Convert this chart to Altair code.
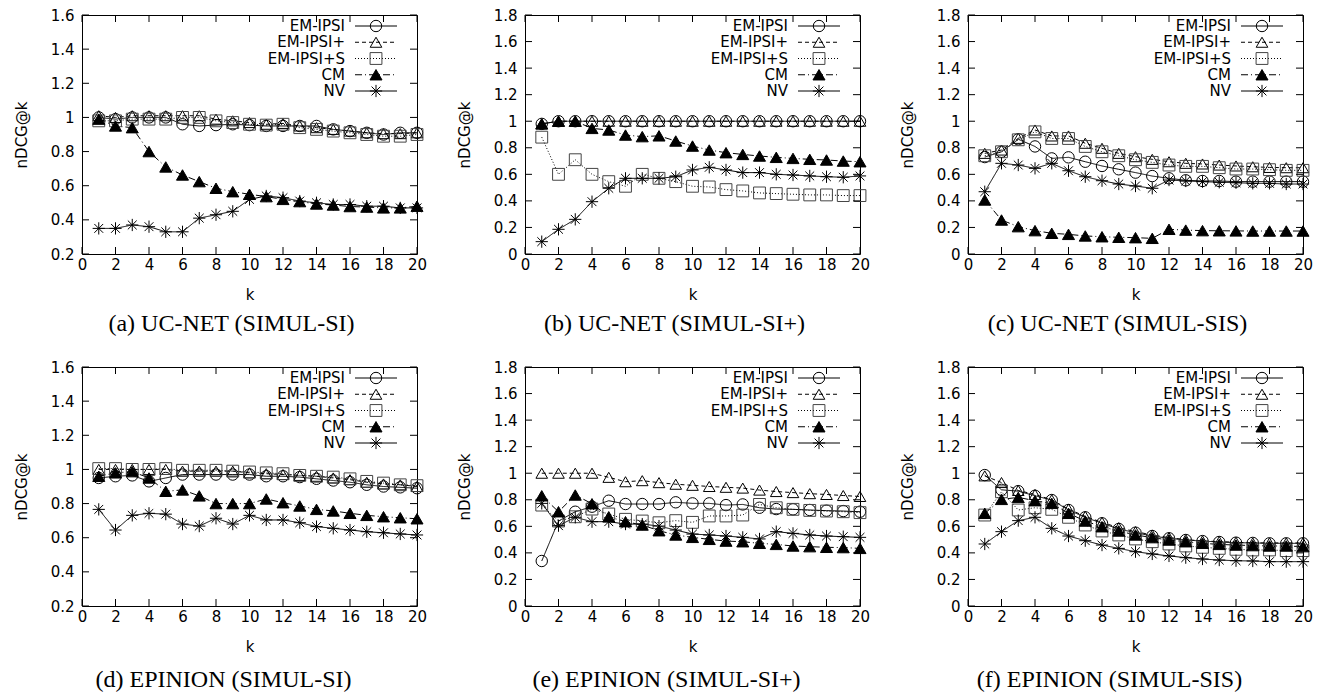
import altair as alt
import pandas as pd

# k positions and series names
K = list(range(1, 21))
SERIES = ["EM-IPSI", "EM-IPSI+", "EM-IPSI+S", "CM", "NV"]

# (a) UC-NET (SIMUL-SI)
A_EM = [1.00, 0.99, 1.00, 1.00, 1.00, 0.96, 0.95, 0.955, 0.96, 0.955, 0.95, 0.95, 0.95, 0.95, 0.93, 0.92, 0.91, 0.90, 0.91, 0.91]
A_EMP = [1.01, 1.00, 1.01, 1.01, 1.01, 1.01, 1.01, 0.99, 0.98, 0.97, 0.96, 0.965, 0.95, 0.94, 0.93, 0.92, 0.91, 0.905, 0.905, 0.91]
A_EMS = [0.98, 0.98, 0.99, 0.99, 0.99, 1.00, 1.00, 0.98, 0.97, 0.96, 0.955, 0.96, 0.94, 0.93, 0.92, 0.91, 0.90, 0.89, 0.89, 0.90]
A_CM = [0.99, 0.95, 0.94, 0.80, 0.71, 0.663, 0.624, 0.585, 0.565, 0.55, 0.536, 0.52, 0.507, 0.493, 0.487, 0.478, 0.475, 0.47, 0.47, 0.48]
A_NV = [0.35, 0.35, 0.37, 0.36, 0.33, 0.33, 0.41, 0.43, 0.45, 0.52, 0.54, 0.53, 0.51, 0.50, 0.49, 0.49, 0.48, 0.48, 0.47, 0.47]

# (b) UC-NET (SIMUL-SI+)
B_EM = [0.98, 1.0, 1.0, 1.0, 1.0, 1.0, 1.0, 1.0, 1.0, 1.0, 1.0, 1.0, 1.0, 1.0, 1.0, 1.0, 1.0, 1.0, 1.0, 1.0]
B_EMP = [0.98, 1.0, 1.0, 1.0, 1.0, 1.0, 1.0, 1.0, 1.0, 1.0, 1.0, 1.0, 1.0, 1.0, 1.0, 1.0, 1.0, 1.0, 1.0, 1.0]
B_EMS = [0.88, 0.60, 0.71, 0.60, 0.545, 0.51, 0.60, 0.57, 0.545, 0.51, 0.505, 0.485, 0.475, 0.46, 0.455, 0.45, 0.445, 0.445, 0.44, 0.44]
B_CM = [0.98, 1.0, 1.0, 0.946, 0.934, 0.896, 0.884, 0.89, 0.851, 0.813, 0.783, 0.763, 0.75, 0.738, 0.728, 0.72, 0.713, 0.708, 0.70, 0.695]
B_NV = [0.093, 0.186, 0.261, 0.394, 0.495, 0.57, 0.57, 0.57, 0.582, 0.633, 0.653, 0.633, 0.613, 0.613, 0.60, 0.595, 0.588, 0.582, 0.578, 0.588]

# (c) UC-NET (SIMUL-SIS)
C_EM = [0.73, 0.77, 0.864, 0.81, 0.72, 0.728, 0.695, 0.663, 0.638, 0.613, 0.587, 0.57, 0.555, 0.55, 0.55, 0.545, 0.545, 0.545, 0.545, 0.545]
C_EMP = [0.758, 0.783, 0.871, 0.934, 0.889, 0.889, 0.834, 0.796, 0.758, 0.733, 0.713, 0.695, 0.683, 0.678, 0.67, 0.663, 0.657, 0.652, 0.65, 0.65]
C_EMS = [0.74, 0.77, 0.86, 0.92, 0.87, 0.87, 0.81, 0.77, 0.74, 0.71, 0.69, 0.67, 0.66, 0.66, 0.65, 0.64, 0.64, 0.635, 0.63, 0.63]
C_CM = [0.407, 0.256, 0.206, 0.176, 0.156, 0.148, 0.136, 0.13, 0.126, 0.123, 0.118, 0.186, 0.18, 0.176, 0.175, 0.174, 0.173, 0.173, 0.173, 0.173]
C_NV = [0.469, 0.683, 0.67, 0.645, 0.683, 0.627, 0.582, 0.552, 0.527, 0.512, 0.495, 0.557, 0.55, 0.545, 0.54, 0.537, 0.532, 0.532, 0.527, 0.527]

# (d) EPINION (SIMUL-SI)
D_EM = [0.95, 0.96, 0.965, 0.93, 0.95, 0.97, 0.97, 0.97, 0.97, 0.97, 0.96, 0.96, 0.955, 0.945, 0.935, 0.925, 0.91, 0.90, 0.895, 0.89]
D_EMP = [1.0, 1.0, 1.0, 1.0, 1.0, 0.99, 0.99, 0.99, 0.99, 0.98, 0.975, 0.97, 0.965, 0.96, 0.95, 0.94, 0.925, 0.915, 0.91, 0.90]
D_EMS = [1.005, 1.005, 1.0, 1.0, 1.005, 0.995, 0.995, 0.995, 0.99, 0.985, 0.98, 0.975, 0.965, 0.96, 0.955, 0.945, 0.93, 0.92, 0.91, 0.905]
D_CM = [0.96, 0.98, 0.987, 0.95, 0.872, 0.88, 0.845, 0.80, 0.80, 0.80, 0.827, 0.805, 0.786, 0.766, 0.757, 0.743, 0.731, 0.723, 0.717, 0.711]
D_NV = [0.766, 0.645, 0.731, 0.743, 0.738, 0.68, 0.668, 0.714, 0.68, 0.731, 0.704, 0.704, 0.688, 0.665, 0.655, 0.645, 0.635, 0.629, 0.622, 0.616]

# (e) EPINION (SIMUL-SI+)
E_EM = [0.339, 0.64, 0.71, 0.748, 0.793, 0.768, 0.768, 0.768, 0.781, 0.773, 0.773, 0.76, 0.765, 0.74, 0.73, 0.728, 0.723, 0.718, 0.715, 0.71]
E_EMP = [1.0, 1.0, 1.0, 1.0, 0.969, 0.936, 0.944, 0.929, 0.917, 0.909, 0.9, 0.894, 0.888, 0.873, 0.862, 0.854, 0.846, 0.84, 0.832, 0.825]
E_EMS = [0.76, 0.64, 0.672, 0.73, 0.693, 0.653, 0.64, 0.627, 0.643, 0.63, 0.678, 0.678, 0.685, 0.765, 0.74, 0.728, 0.72, 0.715, 0.71, 0.703]
E_CM = [0.83, 0.71, 0.836, 0.77, 0.672, 0.635, 0.61, 0.567, 0.535, 0.517, 0.502, 0.489, 0.484, 0.472, 0.464, 0.452, 0.447, 0.442, 0.44, 0.434]
E_NV = [0.773, 0.605, 0.668, 0.635, 0.635, 0.617, 0.617, 0.602, 0.572, 0.542, 0.535, 0.527, 0.517, 0.505, 0.56, 0.547, 0.535, 0.527, 0.522, 0.517]

# (f) EPINION (SIMUL-SIS)
F_EM = [0.986, 0.875, 0.865, 0.83, 0.798, 0.723, 0.668, 0.623, 0.58, 0.552, 0.527, 0.51, 0.497, 0.489, 0.482, 0.477, 0.475, 0.472, 0.472, 0.472]
F_EMP = [0.98, 0.93, 0.87, 0.84, 0.80, 0.73, 0.675, 0.63, 0.59, 0.56, 0.535, 0.515, 0.50, 0.49, 0.485, 0.48, 0.475, 0.475, 0.475, 0.475]
F_EMS = [0.685, 0.86, 0.723, 0.74, 0.728, 0.668, 0.61, 0.565, 0.535, 0.505, 0.484, 0.467, 0.452, 0.442, 0.434, 0.427, 0.422, 0.422, 0.417, 0.417]
F_CM = [0.698, 0.803, 0.818, 0.793, 0.773, 0.698, 0.64, 0.597, 0.565, 0.535, 0.515, 0.497, 0.484, 0.472, 0.464, 0.459, 0.455, 0.452, 0.452, 0.447]
F_NV = [0.467, 0.56, 0.643, 0.668, 0.585, 0.527, 0.492, 0.459, 0.434, 0.409, 0.392, 0.377, 0.364, 0.354, 0.346, 0.341, 0.339, 0.334, 0.334, 0.334]

CAPTIONS = [
    "(a) UC-NET (SIMUL-SI)",
    "(b) UC-NET (SIMUL-SI+)",
    "(c) UC-NET (SIMUL-SIS)",
    "(d) EPINION (SIMUL-SI)",
    "(e) EPINION (SIMUL-SI+)",
    "(f) EPINION (SIMUL-SIS)",
]

X_TICKS = [0, 2, 4, 6, 8, 10, 12, 14, 16, 18, 20]
Y_TICKS_SI = [0.2, 0.4, 0.6, 0.8, 1.0, 1.2, 1.4, 1.6]
Y_TICKS_WIDE = [0.0, 0.2, 0.4, 0.6, 0.8, 1.0, 1.2, 1.4, 1.6, 1.8]

W, H = 335, 239
TICK_LEN = 7

# line dash per series (solid, dashed, dotted, dash-dot, solid)
DASHES = [[1, 0], [4, 3], [1, 2], [7, 3, 1, 3], [1, 0]]
ASTERISK = "M0,-1L0,1M-1,0L1,0M-0.72,-0.72L0.72,0.72M-0.72,0.72L0.72,-0.72"
SHAPES = ["circle", "triangle-up", "square", "triangle-up", ASTERISK]
FILLS = ["transparent", "transparent", "transparent", "black", "transparent"]
STROKES = ["black", "black", "#444444", "black", "black"]
SIZES = [130, 150, 120, 150, 160]

SANS = "DejaVu Sans"
SERIF = "Liberation Serif"

dash_enc = alt.StrokeDash("series:N", scale=alt.Scale(domain=SERIES, range=DASHES), legend=None)
shape_enc = alt.Shape("series:N", scale=alt.Scale(domain=SERIES, range=SHAPES), legend=None)
fill_enc = alt.Fill("series:N", scale=alt.Scale(domain=SERIES, range=FILLS), legend=None)
stroke_enc = alt.Stroke("series:N", scale=alt.Scale(domain=SERIES, range=STROKES), legend=None)
size_enc = alt.Size("series:N", scale=alt.Scale(domain=SERIES, range=SIZES), legend=None)


def panel(values, caption, y_ticks, caption_offset, caption_dx):
    rows = []
    for name, vals in zip(SERIES, values):
        for k, v in zip(K, vals):
            rows.append({"series": name, "k": k, "v": v})
    df = pd.DataFrame(rows)

    xs = alt.Scale(domain=[0, 20], nice=False, zero=False)
    ys = alt.Scale(domain=[y_ticks[0], y_ticks[-1]], nice=False, zero=False)
    x_axis = alt.Axis(values=X_TICKS, title="k", labelPadding=3, titlePadding=15,
                      labelFlush=False, labelOverlap=False)
    y_axis = alt.Axis(values=y_ticks, title="nDCG@k", format="~g", labelPadding=8, titlePadding=21,
                      labelFlush=False, labelOverlap=False)

    base = alt.Chart(df)
    lines = base.mark_line(color="black", strokeWidth=1).encode(
        x=alt.X("k:Q", scale=xs, axis=x_axis),
        y=alt.Y("v:Q", scale=ys, axis=y_axis),
        strokeDash=dash_enc, detail="series:N", order="k:Q",
    )
    points = base.mark_point(strokeWidth=1, opacity=1, filled=False).encode(
        x=alt.X("k:Q", scale=xs, axis=x_axis),
        y=alt.Y("v:Q", scale=ys, axis=y_axis),
        shape=shape_enc, fill=fill_enc, stroke=stroke_enc, size=size_enc,
    )

    # inward ticks on all four sides of the frame
    ydf = pd.DataFrame({"v": y_ticks})
    xdf = pd.DataFrame({"k": X_TICKS})
    ty = alt.Y("v:Q", scale=ys, axis=y_axis)
    tx = alt.X("k:Q", scale=xs, axis=x_axis)
    tick_l = alt.Chart(ydf).mark_rule(color="black", strokeWidth=1).encode(
        y=ty, x=alt.value(0), x2=alt.value(TICK_LEN))
    tick_r = alt.Chart(ydf).mark_rule(color="black", strokeWidth=1).encode(
        y=ty, x=alt.value(W - TICK_LEN), x2=alt.value(W))
    tick_b = alt.Chart(xdf).mark_rule(color="black", strokeWidth=1).encode(
        x=tx, y=alt.value(H), y2=alt.value(H - TICK_LEN))
    tick_t = alt.Chart(xdf).mark_rule(color="black", strokeWidth=1).encode(
        x=tx, y=alt.value(0), y2=alt.value(TICK_LEN))

    main = alt.layer(lines, points, tick_l, tick_r, tick_b, tick_t)

    # key in the upper right: label, line sample, marker
    kdf = pd.DataFrame({"series": SERIES})
    ky = alt.Y("series:N", sort=SERIES,
               scale=alt.Scale(type="point", domain=SERIES, range=[11, 76], padding=0),
               axis=None)
    key_text = alt.Chart(kdf).mark_text(
        align="right", baseline="middle", font=SANS, fontSize=15, color="black"
    ).encode(y=ky, x=alt.value(263), text="series:N")
    key_line = alt.Chart(kdf).mark_rule(color="black", strokeWidth=1).encode(
        y=ky, x=alt.value(273), x2=alt.value(315), strokeDash=dash_enc)
    key_pts = alt.Chart(kdf).mark_point(strokeWidth=1, opacity=1, filled=False).encode(
        y=ky, x=alt.value(294), shape=shape_enc, fill=fill_enc, stroke=stroke_enc, size=size_enc)
    key = alt.layer(key_text, key_line, key_pts)

    return alt.layer(main, key).resolve_scale(y="independent").properties(
        width=W, height=H,
        title=alt.TitleParams(
            text=caption, orient="bottom", font=SERIF, fontSize=24,
            fontWeight="normal", color="black", frame="group", anchor="middle",
            offset=caption_offset, dx=caption_dx,
        ),
    )


pa = panel([A_EM, A_EMP, A_EMS, A_CM, A_NV], CAPTIONS[0], Y_TICKS_SI, 10, -18)
pb = panel([B_EM, B_EMP, B_EMS, B_CM, B_NV], CAPTIONS[1], Y_TICKS_WIDE, 10, -18)
pc = panel([C_EM, C_EMP, C_EMS, C_CM, C_NV], CAPTIONS[2], Y_TICKS_WIDE, 10, -18)
pd_ = panel([D_EM, D_EMP, D_EMS, D_CM, D_NV], CAPTIONS[3], Y_TICKS_SI, 14, -26)
pe = panel([E_EM, E_EMP, E_EMS, E_CM, E_NV], CAPTIONS[4], Y_TICKS_WIDE, 14, -26)
pf = panel([F_EM, F_EMP, F_EMS, F_CM, F_NV], CAPTIONS[5], Y_TICKS_WIDE, 14, -26)

row1 = alt.hconcat(pa, pb, pc, spacing=28).resolve_scale(x="independent", y="independent")
row2 = alt.hconcat(pd_, pe, pf, spacing=28).resolve_scale(x="independent", y="independent")

chart = (
    alt.vconcat(row1, row2, spacing=22)
    .resolve_scale(x="independent", y="independent")
    .properties(padding={"left": 13, "top": 7, "right": 0, "bottom": 0}, background="white")
    .configure_view(stroke="black", strokeWidth=1)
    .configure_axis(
        domain=False, grid=False, ticks=False,
        labelFont=SANS, labelFontSize=15, labelColor="black",
        titleFont=SANS, titleFontSize=15, titleFontWeight="normal", titleColor="black",
    )
)

chart.save("out.html", embed_options={"renderer": "svg", "actions": False})
